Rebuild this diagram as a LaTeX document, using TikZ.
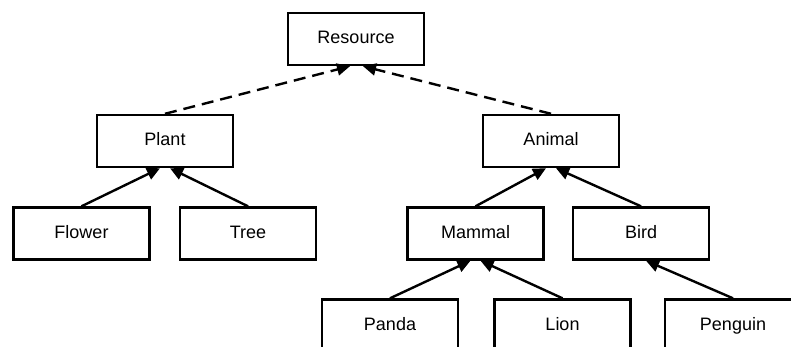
\documentclass[tikz,border=0pt]{standalone}
\usepackage{fontspec}
\setmainfont{Liberation Sans}
\usetikzlibrary{arrows.meta}
\begin{document}
\begin{tikzpicture}[x=1pt,y=-1pt,
  box/.style={draw=black,line width=2.4pt,fill=white,minimum width=136pt,minimum height=52pt,inner sep=0pt,text height=13pt,text depth=4pt,font=\fontsize{18}{21}\selectfont},
  solidarrow/.style={line width=2.4pt,-{Triangle[length=13pt,width=12pt]}},
  dasharrow/.style={line width=2.4pt,dash pattern=on 12pt off 7pt,-{Triangle[length=13pt,width=12pt]}}]
\useasboundingbox (0,0) rectangle (791,347);
\node[box] (resource) at (356,39) {Resource};
\node[box] (plant) at (165,141) {Plant};
\node[box] (animal) at (551,141) {Animal};
\node[box] (flower) at (81.5,233.5) {Flower};
\node[box] (tree) at (248,233.5) {Tree};
\node[box] (mammal) at (475.5,233.5) {Mammal};
\node[box] (bird) at (641,233.5) {Bird};
\node[box] (panda) at (390,325.5) {Panda};
\node[box] (lion) at (562.5,325.5) {Lion};
\node[box] (penguin) at (733,325.5) {Penguin};
\draw[dasharrow] (plant.north) -- ([xshift=-6pt]resource.south);
\draw[dasharrow] (animal.north) -- ([xshift=7pt]resource.south);
\draw[solidarrow] (flower.north) -- ([xshift=-5pt]plant.south);
\draw[solidarrow] (tree.north) -- ([xshift=5pt]plant.south);
\draw[solidarrow] (mammal.north) -- ([xshift=-5pt]animal.south);
\draw[solidarrow] (bird.north) -- ([xshift=5pt]animal.south);
\draw[solidarrow] (panda.north) -- ([xshift=-5pt]mammal.south);
\draw[solidarrow] (lion.north) -- ([xshift=5pt]mammal.south);
\draw[solidarrow] (penguin.north) -- ([xshift=5pt]bird.south);
\end{tikzpicture}
\end{document}
